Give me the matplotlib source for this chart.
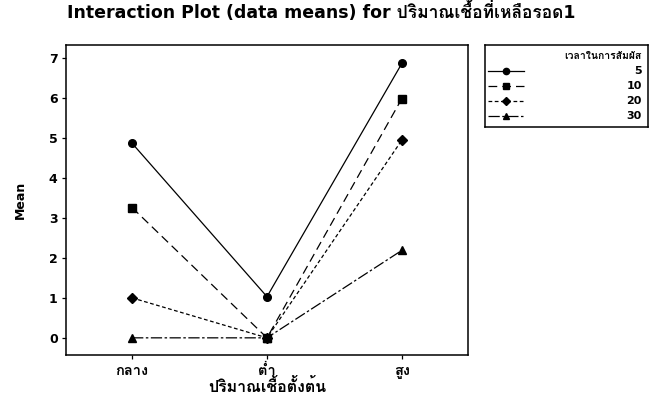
import matplotlib
matplotlib.use("Agg")
import matplotlib.pyplot as plt

# Thai glyphs come from the second family when DejaVu has none
plt.rcParams['font.family'] = ['DejaVu Sans', 'Loma']
plt.rcParams['font.weight'] = 'bold'
plt.rcParams['axes.labelweight'] = 'bold'

# ปริมาณเชื้อตั้งต้น levels (x) and mean per contact time (series)
levels = ['กลาง', 'ต่ำ', 'สูง']
times = ['5', '10', '20', '30']
mean_5 = [4.87, 1.03, 6.87]
mean_10 = [3.26, 0.0, 5.99]
mean_20 = [1.0, 0.0, 4.95]
mean_30 = [0.0, 0.0, 2.19]
series = [mean_5, mean_10, mean_20, mean_30]

markers = ['o', 's', 'D', '^']
marker_sizes = [5.5, 5.5, 4.8, 5.5]
dashes = ['-', (0, (7, 4)), (0, (3, 2)), (0, (9, 2, 2, 2))]

fig = plt.figure(figsize=(6.52, 3.96), dpi=100)
ax = fig.add_axes([0.1012, 0.1035, 0.6166, 0.7829])

x = list(range(len(levels)))
for vals, m, ms, ls in zip(series, markers, marker_sizes, dashes):
    ax.plot(x, vals, color='black', lw=0.9, linestyle=ls,
            marker=m, markersize=ms, markerfacecolor='black', markeredgecolor='black')

ax.set_xlim(-0.49, 2.49)
ax.set_ylim(-0.43, 7.33)
ax.set_xticks(x)
ax.set_xticklabels(levels)
ax.set_yticks(range(0, 8))
ax.tick_params(direction='out', length=3, width=0.9, labelsize=9, pad=3)
ax.tick_params(axis='x', pad=3, labelsize=10.5)
for s in ax.spines.values():
    s.set_linewidth(1.1)

ax.set_ylabel('Mean', fontsize=9, labelpad=16)
ax.set_xlabel('ปริมาณเชื้อตั้งต้น', fontsize=11.5, labelpad=0)
fig.text(0.493, 0.97, 'Interaction Plot (data means) for ปริมาณเชื้อที่เหลือรอด1',
         ha='center', va='center', fontsize=12.5)

# legend panel
lax = fig.add_axes([0.744, 0.679, 0.25, 0.207])
lax.set_xlim(0, 1)
lax.set_ylim(0, 1)
lax.set_xticks([])
lax.set_yticks([])
for s in lax.spines.values():
    s.set_linewidth(1.1)
lax.text(0.96, 0.87, 'เวลาในการสัมผัส', ha='right', va='center', fontsize=7.5)
rows = [0.68, 0.50, 0.32, 0.13]
for y, lab, m, ms, ls in zip(rows, times, markers, marker_sizes, dashes):
    lax.plot([0.02, 0.24], [y, y], color='black', lw=0.9, linestyle=ls)
    lax.plot([0.13], [y], color='black', marker=m, markersize=ms - 1)
    lax.text(0.96, y, lab, ha='right', va='center', fontsize=8)

fig.savefig('out.png', dpi=100)
